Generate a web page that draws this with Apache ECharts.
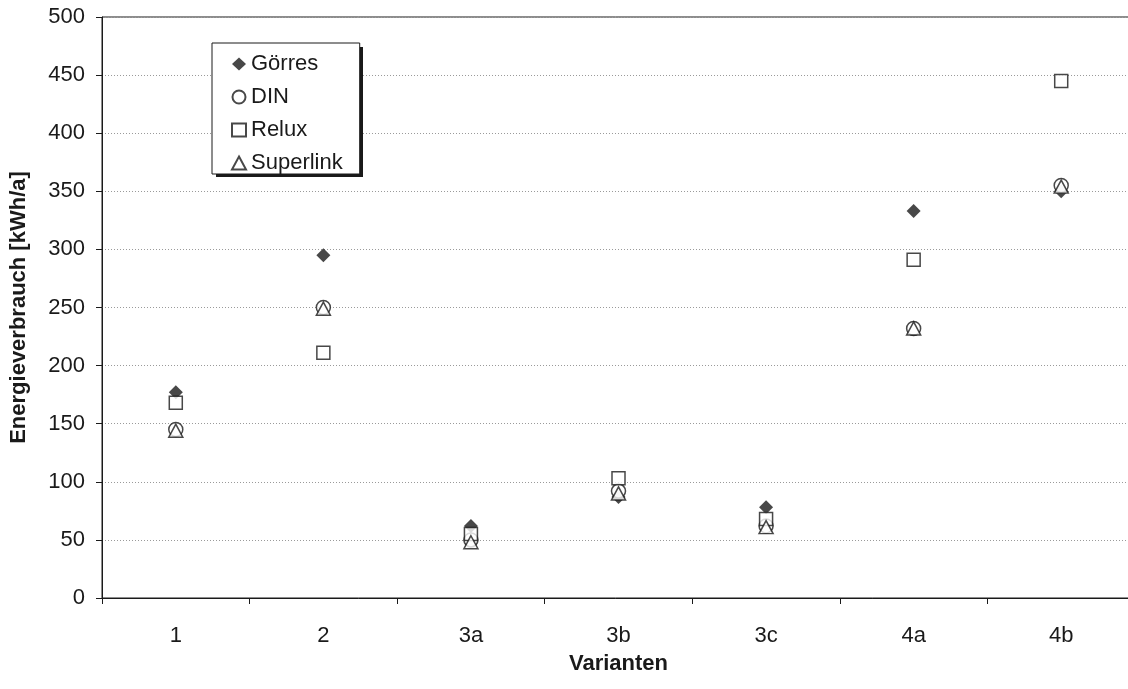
<!DOCTYPE html>
<html>
<head>
<meta charset="utf-8">
<script src="https://cdn.jsdelivr.net/npm/echarts@6/dist/echarts.min.js"></script>
<style>
html,body{margin:0;padding:0;background:#fff;}
#chart{width:1128px;height:689px;}
</style>
</head>
<body>
<div id="chart"></div>
<script>
const categories = ['1', '2', '3a', '3b', '3c', '4a', '4b'];
const goerres = [177, 295, 62, 87, 78, 333, 350];
const din = [145, 250, 50, 92, 62, 232, 355];
const relux = [168, 211, 55, 103, 68, 291, 445];
const superlink = [144, 249, 48, 90, 61, 232, 354];
const seriesNames = ['Görres', 'DIN', 'Relux', 'Superlink'];
const yAxisTitle = 'Energieverbrauch [kWh/a]';
const xAxisTitle = 'Varianten';

const FONT = 'Liberation Sans, Arial, sans-serif';
const INK = '#1a1a1a';

const chart = echarts.init(document.getElementById('chart'), null, {renderer: 'canvas'});

function openStyle() {
  return {color: '#ffffff', borderColor: INK, borderWidth: 1.5};
}

chart.setOption({
  animation: false,
  backgroundColor: '#ffffff',
  textStyle: {fontFamily: FONT, color: INK},
  grid: {left: 102, top: 17, width: 1033, height: 581, outerBoundsMode: 'none', containLabel: false,
         show: true, borderColor: INK, borderWidth: 1, backgroundColor: 'transparent'},
  graphic: [{
    type: 'rect', z: 3, silent: true,
    shape: {x: 216, y: 47, width: 147, height: 130},
    style: {fill: INK}
  }],
  legend: {
    orient: 'vertical',
    left: 212, top: 43, z: 4,
    data: seriesNames,
    itemWidth: 14, itemHeight: 13, itemGap: 11,
    padding: [10, 17, 0, 19],
    backgroundColor: '#ffffff',
    borderColor: INK, borderWidth: 1, borderRadius: 0,
    textStyle: {fontFamily: FONT, fontSize: 22, color: INK, lineHeight: 22}
  },
  xAxis: {
    type: 'category',
    data: categories,
    boundaryGap: true,
    name: xAxisTitle,
    nameLocation: 'middle',
    nameGap: 55,
    nameMoveOverlap: false,
    nameTextStyle: {fontFamily: FONT, fontSize: 22, fontWeight: 'bold', color: INK},
    axisLine: {show: true, lineStyle: {color: INK, width: 1}},
    axisTick: {show: true, length: 6, inside: false, alignWithLabel: false, lineStyle: {color: INK}},
    axisLabel: {fontFamily: FONT, fontSize: 22, color: INK, margin: 27},
    splitLine: {show: false}
  },
  yAxis: {
    type: 'value',
    min: 0, max: 500, interval: 50,
    name: yAxisTitle,
    nameLocation: 'middle',
    nameGap: 72,
    nameMoveOverlap: false,
    nameTextStyle: {fontFamily: FONT, fontSize: 22, fontWeight: 'bold', color: INK},
    axisLine: {show: true, lineStyle: {color: INK, width: 1}},
    axisTick: {show: true, length: 6, lineStyle: {color: INK}},
    axisLabel: {fontFamily: FONT, fontSize: 22, color: INK, margin: 17},
    splitLine: {show: true, lineStyle: {color: '#9a9a9a', type: [1, 2], width: 1}}
  },
  series: [
    {name: seriesNames[0], type: 'scatter', data: goerres, symbol: 'diamond', symbolSize: [14, 14],
     itemStyle: {color: INK, borderColor: INK, borderWidth: 0}},
    {name: seriesNames[1], type: 'scatter', data: din, symbol: 'circle', symbolSize: 14, itemStyle: openStyle()},
    {name: seriesNames[2], type: 'scatter', data: relux, symbol: 'rect', symbolSize: 13, itemStyle: openStyle()},
    {name: seriesNames[3], type: 'scatter', data: superlink, symbol: 'triangle', symbolSize: [14, 13], itemStyle: openStyle()}
  ]
});
</script>
</body>
</html>
